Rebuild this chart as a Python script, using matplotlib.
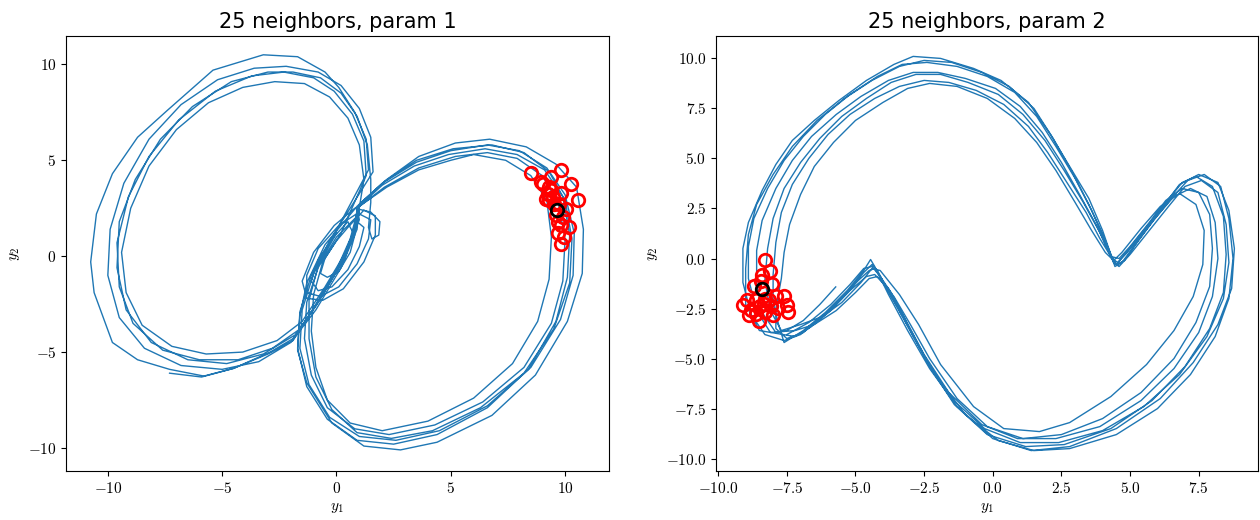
import matplotlib
matplotlib.use("Agg")
import matplotlib.pyplot as plt
import numpy as np

plt.rcParams.update({
    "mathtext.fontset": "cm",
    "font.family": "serif",
    "font.serif": ["cmr10"],
    "axes.formatter.use_mathtext": True,
    "axes.unicode_minus": True,
})

# ---------------- left panel data (param 1) ----------------
L_tail = [(-7.3, -6.1), (-5.9, -6.3), (-4.5, -5.85), (-3.0, -5.1), (-1.9, -4.4), (-1.0, -2.7), (0.0, -0.7), (0.6, 0.9)]
L_R1 = [(1.0, 2.7), (2.2, 4.0), (3.6, 5.2), (5.2, 5.9), (6.7, 6.1), (8.3, 5.7), (9.6, 4.8), (10.5, 3.6), (10.8, 1.4),
        (10.75, -0.9), (10.1, -3.4), (8.7, -6.2), (6.8, -8.3), (4.4, -9.7), (2.8, -10.1), (1.2, -9.9), (-0.2, -8.7),
        (-1.3, -6.6), (-1.7, -4.9), (-1.6, -3.1), (-1.3, -1.4), (-0.5, 0.6)]
L_R2 = [(0.9, 2.6), (2.0, 3.8), (3.5, 4.9), (5.0, 5.5), (6.6, 5.8), (8.0, 5.5), (9.2, 4.6), (10.0, 3.2), (10.4, 1.2),
        (10.35, -1.0), (9.8, -3.3), (8.5, -5.8), (6.6, -7.8), (4.5, -9.1), (2.6, -9.6), (1.0, -9.4), (-0.3, -8.4),
        (-1.2, -6.7), (-1.6, -4.8), (-1.5, -2.8), (-1.0, -0.9), (-0.2, 0.9)]
L_R3 = [(0.9, 2.5), (2.1, 3.6), (3.6, 4.6), (5.2, 5.2), (6.6, 5.4), (7.9, 5.1), (9.0, 4.2), (9.7, 2.8), (10.0, 0.9),
        (9.9, -1.3), (9.4, -3.5), (8.2, -5.8), (6.4, -7.6), (4.3, -8.8), (2.3, -9.3), (0.8, -9.0), (-0.4, -7.9),
        (-1.1, -6.2), (-1.4, -4.3), (-1.3, -2.4), (-0.8, -0.6), (0.0, 1.0)]
L_R4 = [(1.0, 2.6), (2.2, 3.6), (3.6, 4.5), (5.0, 5.0), (6.0, 5.3), (7.4, 5.0), (8.5, 4.2), (9.2, 2.9), (9.4, 1.0),
        (9.3, -1.2), (8.8, -3.4), (7.7, -5.6), (6.0, -7.4), (4.0, -8.6), (2.0, -9.1), (0.6, -8.7), (-0.4, -7.5),
        (-0.9, -5.8), (-1.1, -3.9), (-1.0, -2.0), (-0.6, -0.3), (0.2, 1.2)]
L_R5 = [(0.9, 2.5), (2.0, 3.7), (3.4, 4.7), (4.9, 5.3), (6.5, 5.6), (7.9, 5.3), (9.1, 4.5), (9.9, 3.1), (10.2, 1.1),
        (10.1, -1.1), (9.6, -3.4), (8.4, -5.9), (6.6, -7.9), (4.4, -9.3), (2.5, -9.8), (0.9, -9.6), (-0.4, -8.5),
        (-1.3, -6.8), (-1.7, -4.8), (-1.6, -2.9), (-1.1, -1.0), (-0.3, 0.8)]
L_R6 = [(1.0, 2.7), (2.1, 3.9), (3.5, 5.0), (5.1, 5.6), (6.8, 5.8), (8.2, 5.4), (9.3, 4.4), (10.0, 2.9), (10.3, 0.9),
        (10.2, -1.4), (9.5, -3.8), (8.2, -6.1), (6.3, -7.9), (4.2, -9.1), (2.4, -9.5), (0.9, -9.2), (-0.2, -8.0),
        (-0.9, -6.3), (-1.2, -4.3), (-1.2, -2.3), (-0.8, -0.5), (0.0, 1.2)]
L_L1 = [(1.4, 4.5), (1.3, 6.1), (0.8, 7.5), (0.1, 8.8), (-0.5, 9.6), (-1.7, 10.4), (-3.2, 10.5), (-5.4, 9.7),
        (-7.4, 7.6), (-8.7, 6.2), (-9.8, 4.3), (-10.5, 2.2), (-10.75, -0.3), (-10.6, -1.9), (-9.8, -4.5),
        (-8.7, -5.4), (-7.3, -5.9), (-5.8, -6.25), (-4.5, -5.85), (-2.9, -5.0), (-1.9, -4.3), (-0.9, -2.6),
        (0.1, -0.6), (0.8, 1.2)]
L_L2 = [(1.5, 4.0), (1.35, 5.8), (0.9, 7.3), (0.2, 8.5), (-0.7, 9.3), (-1.9, 9.6), (-3.0, 9.6), (-4.6, 9.1),
        (-6.3, 7.8), (-7.7, 6.1), (-8.8, 4.0), (-9.5, 1.8), (-9.6, -0.6), (-9.2, -2.8), (-8.1, -4.5), (-6.5, -5.4),
        (-4.8, -5.6), (-3.2, -5.1), (-1.8, -4.1), (-0.8, -2.4), (0.2, -0.4), (0.8, 1.5)]
L_L3 = [(1.3, 4.2), (1.2, 6.0), (0.7, 7.4), (-0.1, 8.6), (-1.0, 9.3), (-2.3, 9.6), (-3.7, 9.4), (-5.3, 8.6),
        (-6.9, 7.1), (-8.2, 5.2), (-9.1, 3.1), (-9.6, 0.7), (-9.5, -1.6), (-8.9, -3.5), (-7.6, -4.9), (-6.0, -5.4),
        (-4.3, -5.4), (-2.8, -4.8), (-1.6, -3.8), (-0.6, -2.0), (0.4, 0.0), (0.9, 1.8)]
L_L4 = [(1.2, 4.0), (1.0, 5.8), (0.5, 7.2), (-0.3, 8.3), (-1.4, 9.0), (-2.7, 9.1), (-4.1, 8.8), (-5.6, 8.0),
        (-7.0, 6.6), (-8.2, 4.7), (-9.0, 2.5), (-9.4, 0.2), (-9.2, -1.9), (-8.5, -3.6), (-7.2, -4.7), (-5.7, -5.1),
        (-4.1, -5.0), (-2.6, -4.4), (-1.5, -3.4), (-0.5, -1.6), (0.5, 0.4), (1.0, 1.9)]
L_L5 = [(1.6, 4.4), (1.5, 6.2), (1.0, 7.7), (0.2, 8.9), (-0.8, 9.6), (-2.2, 9.9), (-3.6, 9.8), (-5.2, 9.2),
        (-6.8, 7.9), (-8.2, 6.1), (-9.3, 3.8), (-9.9, 1.4), (-10.0, -1.0), (-9.5, -3.2), (-8.4, -4.8), (-6.8, -5.7),
        (-5.0, -5.9), (-3.4, -5.5), (-2.0, -4.5), (-0.9, -2.8), (0.2, -0.6), (0.9, 1.4)]
L_E1 = [(1.0, 2.2), (1.5, 1.9), (1.4, 0.9), (0.9, -0.4), (0.1, -1.6), (-0.7, -2.1), (-1.3, -1.9), (-1.3, -1.0),
        (-0.8, 0.4), (0.1, 1.6), (1.0, 2.3)]
L_E2 = [(0.8, 1.9), (1.2, 1.5), (1.0, 0.5), (0.5, -0.7), (-0.2, -1.6), (-0.8, -1.8), (-1.1, -1.3), (-0.8, -0.2),
        (-0.2, 0.9), (0.5, 1.8)]
L_E3 = [(0.6, 1.5), (0.8, 1.1), (0.6, 0.2), (0.1, -0.8), (-0.4, -1.1), (-0.7, -0.9), (-0.5, -0.1), (0.0, 0.8),
        (0.5, 1.5)]
L_E4 = [(1.2, 2.4), (1.7, 2.1), (1.7, 1.1), (1.2, -0.3), (0.3, -1.7), (-0.6, -2.3), (-1.3, -2.2), (-1.5, -1.3),
        (-1.0, 0.2), (-0.1, 1.6), (0.8, 2.5)]
L_hook = [(1.5, 2.3), (1.9, 1.8), (1.85, 1.1), (1.55, 0.9), (1.4, 1.5), (1.5, 2.8)]

left_pieces = [L_tail, L_R1, L_R2, L_L1, L_R3, L_E1, L_E2, L_E3, L_E4, L_hook, L_L2, L_R4,
               L_L3, L_L4, L_R5, L_L5, L_R6]

left_nbr_x = [8.50, 9.82, 9.39, 10.26, 9.02, 9.31, 9.80, 10.58, 9.17, 9.39, 10.04, 9.68, 10.19,
              9.82, 9.97, 9.82, 9.53, 9.24, 8.95, 9.46, 9.75, 9.90, 9.60, 9.31, 9.70]
left_nbr_y = [4.34, 4.51, 4.13, 3.78, 3.78, 3.61, 3.30, 2.95, 3.00, 3.44, 2.48, 1.79, 1.53,
              1.61, 1.00, 0.66, 2.74, 3.26, 3.87, 3.09, 2.74, 2.05, 2.14, 2.92, 1.20]
left_query = (9.65, 2.43)

# ---------------- right panel data (param 2) ----------------
P_tail = [(-5.72, -1.42), (-6.3, -2.3), (-6.9, -3.1), (-7.5, -3.6)]
P_O = [(-8.3, -3.8), (-8.8, -2.8), (-9.1, -1.2), (-9.1, 0.5), (-8.9, 1.8), (-8.4, 3.4), (-7.9, 4.7), (-7.3, 5.9),
       (-6.5, 6.9), (-5.6, 7.9), (-4.6, 8.9), (-3.6, 9.7), (-2.9, 10.1), (-1.9, 10.0), (-0.7, 9.5), (0.3, 8.9),
       (1.3, 7.8), (2.1, 6.2), (2.8, 4.6), (3.5, 3.0), (4.0, 1.4), (4.3, 0.2), (4.5, -0.3), (4.8, 0.2), (5.5, 1.4),
       (6.2, 2.6), (6.8, 3.7), (7.5, 4.2), (8.2, 3.8), (8.6, 2.4), (8.8, 0.5), (8.7, -1.5), (8.2, -3.3), (7.3, -5.2),
       (6.1, -7.0), (4.5, -8.5), (2.8, -9.4), (1.4, -9.6), (0.0, -9.0), (-1.3, -7.4), (-2.3, -5.5), (-3.1, -3.6),
       (-3.8, -1.8), (-4.3, -0.4), (-4.45, -0.05), (-4.7, -0.6), (-5.3, -1.6), (-6.1, -2.7), (-6.9, -3.6),
       (-7.6, -4.2)]
P_I = [(-7.9, -3.5), (-7.9, -2.5), (-7.7, -1.0), (-7.6, 0.3), (-7.4, 1.7), (-7.0, 3.2), (-6.5, 4.6), (-5.8, 5.8),
       (-5.0, 6.9), (-4.0, 7.8), (-3.1, 8.5), (-2.3, 8.75), (-1.3, 8.6), (-0.2, 8.0), (0.8, 7.0), (1.6, 5.8),
       (2.3, 4.4), (3.0, 2.8), (3.6, 1.4), (4.1, 0.3), (4.4, -0.1), (4.7, 0.3), (5.4, 1.5), (6.1, 2.6), (6.8, 3.25),
       (7.4, 2.7), (7.7, 1.4), (7.65, -0.3), (7.3, -1.9), (6.6, -3.6), (5.6, -5.3), (4.3, -6.9), (2.8, -8.2),
       (1.7, -8.65), (0.4, -8.5), (-0.7, -7.4), (-1.9, -5.3), (-2.7, -3.3), (-3.4, -1.8), (-4.1, -0.6),
       (-4.4, -0.5), (-4.8, -1.2), (-5.5, -2.2), (-6.2, -2.9), (-7.0, -3.3)]
P_M1 = [(-8.1, -3.7), (-8.6, -2.6), (-8.9, -1.0), (-8.9, 0.6), (-8.7, 2.0), (-8.2, 3.5), (-7.6, 4.9), (-6.9, 6.1),
        (-6.1, 7.2), (-5.2, 8.2), (-4.2, 9.1), (-3.3, 9.7), (-2.4, 9.8), (-1.3, 9.6), (-0.2, 9.1), (0.8, 8.3),
        (1.6, 7.1), (2.3, 5.6), (3.0, 4.0), (3.6, 2.4), (4.1, 0.9), (4.35, 0.0), (4.55, -0.2), (4.9, 0.3),
        (5.6, 1.5), (6.3, 2.8), (6.9, 3.8), (7.4, 4.1), (8.0, 3.6), (8.4, 2.1), (8.5, 0.2), (8.4, -1.7),
        (7.9, -3.5), (7.0, -5.4), (5.8, -7.1), (4.3, -8.5), (2.6, -9.3), (1.2, -9.4), (-0.2, -8.8), (-1.4, -7.3),
        (-2.3, -5.4), (-3.0, -3.6), (-3.7, -1.9), (-4.2, -0.6), (-4.4, -0.3), (-4.7, -0.7), (-5.3, -1.7),
        (-6.1, -2.8), (-6.9, -3.7), (-7.5, -4.0)]
P_M2 = [(-7.9, -3.7), (-8.4, -2.7), (-8.6, -1.2), (-8.6, 0.4), (-8.4, 1.9), (-7.9, 3.5), (-7.3, 4.9), (-6.6, 6.1),
        (-5.7, 7.2), (-4.8, 8.1), (-3.8, 8.9), (-2.9, 9.3), (-2.0, 9.3), (-1.0, 9.0), (0.1, 8.5), (1.0, 7.6),
        (1.8, 6.3), (2.5, 4.8), (3.2, 3.1), (3.8, 1.6), (4.2, 0.4), (4.4, -0.2), (4.6, -0.4), (5.0, 0.2),
        (5.7, 1.4), (6.4, 2.6), (7.0, 3.6), (7.6, 3.9), (8.2, 3.3), (8.5, 1.7), (8.6, -0.2), (8.4, -2.0),
        (7.8, -3.9), (6.8, -5.8), (5.5, -7.4), (4.0, -8.6), (2.4, -9.2), (1.0, -9.2), (-0.3, -8.5), (-1.5, -7.0),
        (-2.4, -5.1), (-3.1, -3.3), (-3.7, -1.7), (-4.3, -0.5), (-4.5, -0.6), (-4.9, -1.1), (-5.5, -2.0),
        (-6.3, -3.0), (-7.0, -3.8), (-7.6, -4.1)]
P_M3 = [(-7.7, -3.6), (-8.1, -2.6), (-8.3, -1.1), (-8.2, 0.5), (-8.0, 2.0), (-7.6, 3.5), (-7.0, 4.8), (-6.3, 6.0),
        (-5.5, 7.1), (-4.6, 8.0), (-3.7, 8.8), (-2.8, 9.2), (-1.9, 9.2), (-0.9, 8.8), (0.2, 8.2), (1.1, 7.2),
        (1.9, 5.9), (2.6, 4.4), (3.3, 2.8), (3.9, 1.3), (4.3, 0.1), (4.5, -0.3), (4.8, -0.1), (5.3, 0.9),
        (5.9, 2.0), (6.6, 3.1), (7.2, 3.5), (7.8, 3.1), (8.1, 1.8), (8.2, 0.0), (8.0, -1.9), (7.5, -3.7),
        (6.6, -5.5), (5.4, -7.1), (3.9, -8.4), (2.3, -9.0), (0.9, -9.0), (-0.4, -8.3), (-1.6, -6.7), (-2.5, -4.8),
        (-3.2, -3.0), (-3.8, -1.5), (-4.3, -0.8), (-4.6, -0.9), (-5.2, -1.6), (-5.9, -2.6), (-6.6, -3.4),
        (-7.2, -3.9)]
P_M4 = [(-7.8, -3.3), (-8.0, -2.2), (-8.0, -0.8), (-7.9, 0.8), (-7.7, 2.3), (-7.3, 3.7), (-6.7, 5.0), (-6.0, 6.2),
        (-5.2, 7.2), (-4.3, 8.0), (-3.4, 8.6), (-2.5, 8.9), (-1.6, 8.8), (-0.6, 8.4), (0.4, 7.7), (1.3, 6.6),
        (2.0, 5.3), (2.7, 3.8), (3.4, 2.3), (3.9, 1.0), (4.3, 0.1), (4.6, 0.0), (5.0, 0.6), (5.7, 1.8), (6.3, 2.9),
        (6.9, 3.5), (7.5, 3.3), (7.9, 2.2), (8.0, 0.5), (7.9, -1.4), (7.4, -3.2), (6.6, -5.0), (5.4, -6.7),
        (4.0, -8.0), (2.5, -8.8), (1.1, -9.0), (-0.2, -8.4), (-1.3, -7.0), (-2.3, -5.0), (-3.0, -3.3),
        (-3.6, -1.9), (-4.2, -0.9), (-4.5, -1.0), (-5.0, -1.7), (-5.7, -2.6), (-6.5, -3.3), (-7.2, -3.6)]
P_M5 = [(-8.5, -3.6), (-9.0, -2.3), (-9.0, -0.5), (-8.9, 1.2), (-8.6, 2.7), (-8.0, 4.2), (-7.3, 5.6), (-6.4, 6.9),
        (-5.4, 8.0), (-4.4, 8.9), (-3.4, 9.6), (-2.5, 9.9), (-1.5, 9.8), (-0.4, 9.3), (0.6, 8.6), (1.5, 7.5),
        (2.2, 6.0), (2.9, 4.3), (3.5, 2.7), (4.0, 1.2), (4.3, 0.2), (4.45, -0.4), (4.7, -0.2), (5.2, 0.7),
        (5.8, 1.8), (6.5, 3.0), (7.1, 3.9), (7.7, 4.2), (8.3, 3.6), (8.6, 2.0), (8.75, 0.0), (8.6, -2.0),
        (8.1, -3.9), (7.2, -5.8), (6.0, -7.5), (4.5, -8.8), (2.8, -9.5), (1.5, -9.6), (0.2, -9.1), (-1.0, -7.8),
        (-2.1, -5.8), (-2.9, -3.9), (-3.6, -2.1), (-4.1, -0.9), (-4.4, -0.4), (-4.7, -0.5), (-5.2, -1.3),
        (-5.9, -2.3), (-6.7, -3.2), (-7.5, -3.8)]

right_pieces = [P_tail, P_M2, P_O, P_M4, P_M1, P_I, P_M3, P_M5]

right_nbr_x = [-8.31, -8.11, -8.39, -8.04, -8.69, -7.61, -7.91, -8.96, -8.62, -8.28, -9.09, -7.50, -8.49,
               -8.08, -8.82, -7.81, -8.89, -7.47, -8.01, -8.53, -8.28, -8.62, -8.15, -8.35, -8.45]
right_nbr_y = [-0.05, -0.62, -0.83, -1.28, -1.38, -1.87, -1.88, -2.05, -2.05, -2.00, -2.33, -2.33, -2.38,
               -2.38, -2.58, -2.47, -2.80, -2.67, -2.83, -3.13, -2.67, -2.75, -2.08, -2.25, -1.10]
right_query = (-8.39, -1.50)

titles = ["25 neighbors, param 1", "25 neighbors, param 2"]

fig = plt.figure(figsize=(12.6, 5.2), dpi=100)
ax1 = fig.add_axes([66 / 1260, 49 / 520, 543 / 1260, 435 / 520])
ax2 = fig.add_axes([716 / 1260, 49 / 520, 542 / 1260, 435 / 520])

panels = [
    (ax1, left_pieces, left_nbr_x, left_nbr_y, left_query, (-11.83, 11.92), (-11.2, 11.48)),
    (ax2, right_pieces, right_nbr_x, right_nbr_y, right_query, (-10.08, 9.66), (-10.62, 11.12)),
]
for (ax, pieces, nx, ny, q, xl, yl), title in zip(panels, titles):
    path = np.array([p for piece in pieces for p in piece])
    ax.plot(path[:, 0], path[:, 1], color="#1f77b4", lw=1.0)
    ax.plot(nx, ny, "o", mfc="none", mec="red", ms=9, mew=2)
    ax.plot([q[0]], [q[1]], "o", mfc="none", mec="black", ms=9, mew=2)
    ax.set_xlim(*xl)
    ax.set_ylim(*yl)
    ax.set_title(title, fontsize=15, family="DejaVu Sans")
    ax.set_xlabel(r"$y_1$", fontsize=11)
    ax.set_ylabel(r"$y_2$", fontsize=11)
    ax.tick_params(labelsize=11)

ax2.xaxis.set_major_formatter(matplotlib.ticker.FormatStrFormatter(r"$%.1f$"))
ax2.yaxis.set_major_formatter(matplotlib.ticker.FormatStrFormatter(r"$%.1f$"))
ax2.set_xticks([-10, -7.5, -5, -2.5, 0, 2.5, 5, 7.5])
ax2.set_yticks([-10, -7.5, -5, -2.5, 0, 2.5, 5, 7.5, 10])

fig.savefig("out.png", dpi=100)
